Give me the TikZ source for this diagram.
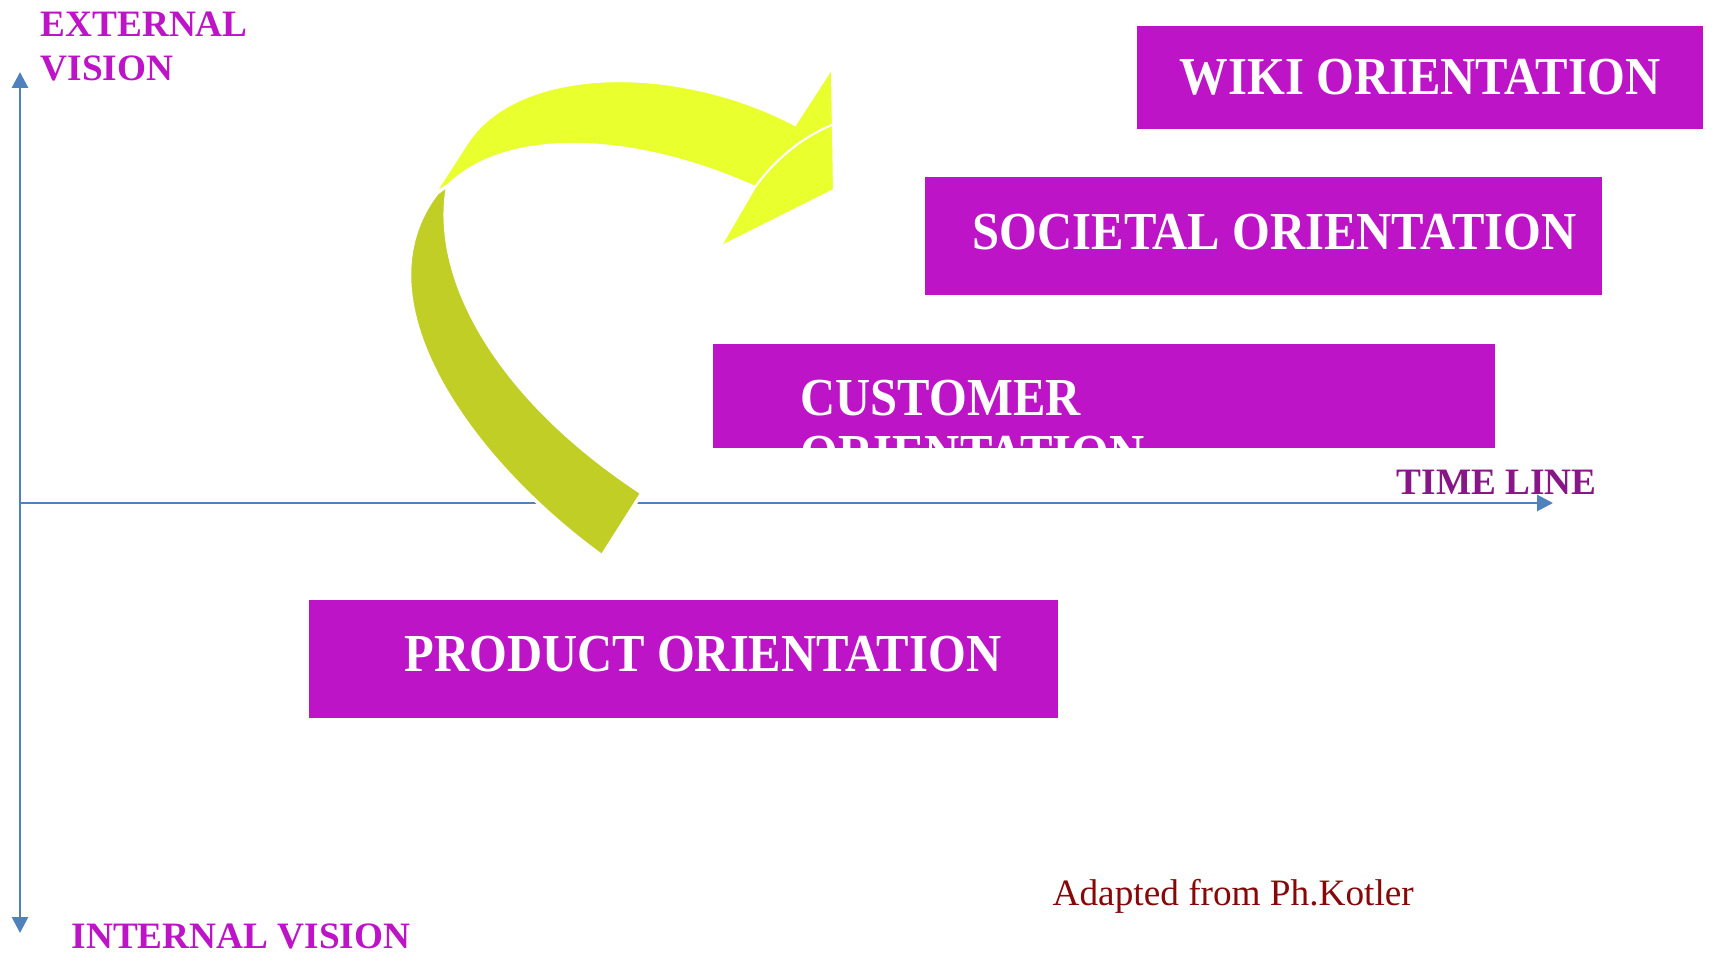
\documentclass[tikz,border=0pt]{standalone}
\usepackage{fontspec}
\setmainfont{Liberation Serif}
\newfontfamily\boxfont[FakeStretch=0.91]{Liberation Serif}
\usetikzlibrary{arrows.meta}

\definecolor{orientpurple}{RGB}{188,20,198}
\definecolor{timepurple}{RGB}{135,22,135}
\definecolor{kotlerred}{RGB}{135,8,8}
\definecolor{axisblue}{RGB}{79,129,189}
\definecolor{arrowlime}{RGB}{234,255,46}
\definecolor{arrowolive}{RGB}{192,206,38}

\begin{document}
\begin{tikzpicture}[
  axis/.style={axisblue, line width=0.8pt, -{Triangle[length=4.5pt,width=4.5pt]}},
  orientbox/.style={fill=orientpurple, inner sep=0pt},
  orienttext/.style={white, font=\boxfont\fontsize{15.2}{16.2}\selectfont\bfseries, inner sep=0pt, anchor=west},
  visionlabel/.style={orientpurple, font=\fontsize{10.6}{12.8}\selectfont\bfseries, inner sep=0pt, anchor=west, align=left}
]
  \useasboundingbox (0,0) rectangle (17.12,9.56);

  % Axes
  \coordinate (origin) at (0.20,4.53);
  \coordinate (ytop) at (0.20,8.84);
  \coordinate (ybot) at (0.20,0.23);
  \coordinate (xend) at (15.53,4.53);
  \draw[axis] (origin) -- (ytop);
  \draw[axis] (origin) -- (ybot);
  \draw[axis] (origin) -- (xend);

  % Orientation boxes
  \node[orientbox, minimum width=5.66cm, minimum height=1.03cm] (wiki) at (14.20,8.785) {};
  \node[orienttext, anchor=center] (wikitext) at (wiki) {WIKI ORIENTATION};

  \node[orientbox, minimum width=6.77cm, minimum height=1.18cm] (societal) at (12.635,7.20) {};
  \node[orienttext] (societaltext) at (9.72,7.24) {SOCIETAL ORIENTATION};

  \node[orientbox, minimum width=7.82cm, minimum height=1.04cm] (customer) at (11.04,5.60) {};
  \begin{scope}
    \clip (customer.south west) rectangle (customer.north east);
    \node[orienttext, align=left, anchor=north west] (customertext) at (8.00,5.77) {CUSTOMER\\ORIENTATION};
  \end{scope}

  \node[orientbox, minimum width=7.49cm, minimum height=1.18cm] (product) at (6.835,2.97) {};
  \node[orienttext] (producttext) at (4.04,3.02) {PRODUCT ORIENTATION};

  % Axis labels
  \node[visionlabel] (external) at (0.40,9.095) {EXTERNAL\\VISION};
  \node[visionlabel] (internal) at (0.71,0.20) {INTERNAL VISION};
  \node[visionlabel, timepurple] (timeline) at (13.96,4.74) {TIME LINE};
  \node[anchor=west, inner sep=0pt, kotlerred, font=\fontsize{10.6}{12.8}\selectfont] (kotler) at (10.52,0.60) {Adapted from Ph.Kotler};

  % Curved arrow: olive tail first, lime band over it
  \filldraw[fill=arrowolive, draw=white, line width=1pt]
    (6.02,4.00) .. controls (4.70,4.96) and (3.55,6.56) .. (4.37,7.63)
    -- (4.48,7.71) .. controls (4.30,6.76) and (5.00,5.56) .. (6.42,4.63) -- cycle;
  \filldraw[fill=arrowlime, draw=white, line width=0.6pt]
    (4.35,7.63) -- (4.68,8.14)
    .. controls (5.20,8.92) and (6.80,8.92) .. (7.95,8.31)
    -- (8.32,8.88) -- (8.34,7.66) -- (7.20,7.09) -- (7.55,7.69)
    .. controls (6.40,8.21) and (5.10,8.31) .. (4.48,7.71) -- cycle;
  \draw[white, line width=0.6pt] (7.55,7.69) .. controls (7.75,7.96) and (8.00,8.18) .. (8.34,8.32);
\end{tikzpicture}
\end{document}
